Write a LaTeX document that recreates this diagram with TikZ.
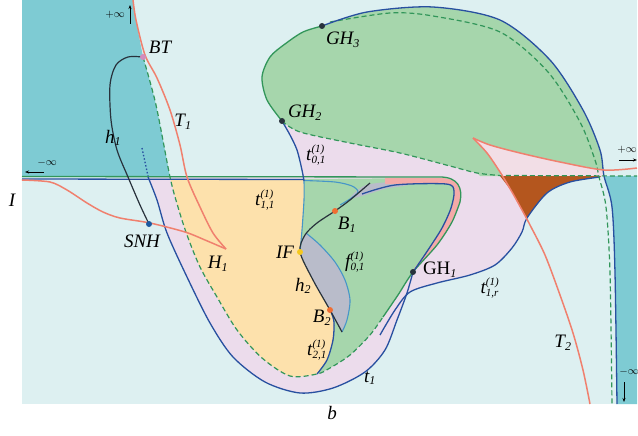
\documentclass[tikz,border=0pt]{standalone}
\usepackage{fontspec}
\setmainfont{Liberation Serif}
\usetikzlibrary{arrows.meta}
\definecolor{bgc}{RGB}{221,240,241}
\definecolor{tealc}{RGB}{126,203,211}
\definecolor{grn}{RGB}{166,214,172}
\definecolor{lav}{RGB}{236,220,236}
\definecolor{yel}{RGB}{253,225,172}
\definecolor{gry}{RGB}{185,188,202}
\definecolor{brn}{RGB}{180,86,30}
\definecolor{pnk}{RGB}{244,170,168}
\definecolor{cusp}{RGB}{242,222,230}
\definecolor{blueline}{RGB}{40,80,160}
\definecolor{lblue}{RGB}{70,150,200}
\definecolor{greenline}{RGB}{50,150,90}
\definecolor{redline}{RGB}{240,128,110}
\definecolor{darkline}{RGB}{40,50,60}
\definecolor{btc}{RGB}{210,140,190}
\definecolor{orng}{RGB}{240,110,50}
\definecolor{ifc}{RGB}{245,200,30}
\definecolor{snhc}{RGB}{30,90,160}
\newcommand{\lsub}[1]{$_{\hbox{\fontsize{12}{12}\selectfont\itshape #1}}$}
\newcommand{\lss}[2]{$\vphantom{t}^{\hbox{\fontsize{11}{11}\selectfont\itshape #1}}_{\hbox{\fontsize{11}{11}\selectfont\itshape #2}}$}
\tikzset{
 lbl/.style={font=\fontsize{19}{21}\selectfont\itshape, inner sep=0pt},
 bline/.style={draw=blueline, line width=1.3pt},
 lbline/.style={draw=lblue, line width=1.1pt},
 gline/.style={draw=greenline, line width=1.3pt},
 gdash/.style={draw=greenline, line width=1.2pt, dash pattern=on 5pt off 3pt},
 rline/.style={draw=redline, line width=1.5pt},
 hline/.style={draw=darkline, line width=1.2pt},
 dotpt/.style={circle, inner sep=0pt, minimum size=6pt},
 inf/.style={font=\fontsize{11}{11}\selectfont, inner sep=0pt},
 infarrow/.style={-{Stealth[length=4pt,width=3pt]}, line width=0.8pt},
}
\begin{document}
\begin{tikzpicture}[x=1pt,y=-1pt]
\useasboundingbox (0,0) rectangle (638,436);
\fill[white] (0,0) rectangle (638,436);
\fill[bgc] (22,0) rectangle (637,404);
% lavender upper
\fill[lav] plot[smooth] coordinates {(282,121) (290,135) (297,150) (302,170) (304,181)} -- (480,181) -- (480,176) -- plot[smooth] coordinates {(477,173) (450,166) (400,153) (350,143) (300,132) (282,121)} -- cycle;
% lavender lower
\fill[lav] plot[smooth] coordinates {(148,177) (157,200) (167,233) (187,277) (210,323) (233,357) (265,382) (300,393) (333,388) (365,372) (385,350) (397,320) (407,293)} -- plot[smooth] coordinates {(410,291) (437,283) (470,275) (495,265) (512,248) (522,232) (527,218)} -- plot[smooth] coordinates {(522,210) (512,192) (500,176)} -- cycle;
% teal upper-left
\fill[tealc] (22,0) -- plot[smooth] coordinates {(133,0) (136,20) (143,57)} -- plot[smooth] coordinates {(143,57) (156,105) (170,177)} -- (22,177) -- cycle;
% teal right
\fill[tealc] plot[smooth] coordinates {(604,176) (612,207) (615,273) (617,404)} -- (637,404) -- (637,176) -- cycle;
% green blob
\fill[grn] plot[smooth] coordinates {(282,121) (267,100) (262,77) (270,57) (285,44) (303,32) (322,26)} -- plot[smooth] coordinates {(322,26) (367,12) (433,7) (500,20) (550,60) (583,110) (600,150) (604,176)} -- (480,176) -- plot[smooth] coordinates {(477,173) (450,166) (400,153) (350,143) (300,132) (282,121)} -- cycle;
% cusp
\fill[cusp] plot[smooth] coordinates {(473,138) (490,145) (520,153) (560,162) (604,170)} -- (604,176) -- (500,176) -- plot[smooth] coordinates {(500,172) (487,153) (473,138)} -- cycle;
% brown
\fill[brn] (500,176) -- (601,176) -- plot[smooth] coordinates {(600,177) (570,182) (547,193) (527,218)} -- plot[smooth] coordinates {(522,210) (512,192) (500,176)} -- cycle;
% yellow
\fill[yel] plot[smooth] coordinates {(170,178) (178,207) (187,235) (200,267) (217,297) (237,330) (262,358) (290,376) (317,374)} -- plot[smooth] coordinates {(327,360) (333,340) (334,322) (330,310)} -- plot[smooth] coordinates {(330,310) (313,280) (300,252)} -- plot[smooth] coordinates {(302,230) (304,200) (304,179)} -- (170,179) -- cycle;
% lower green
\fill[grn] (304,179) -- (440,178) .. controls (458,178) and (463,188) .. (460,202) -- plot[smooth] coordinates {(460,202) (452,222) (437,245) (413,272) (398,295) (383,317)} -- plot[smooth] coordinates {(370,335) (350,355) (330,368) (317,374)} -- plot[smooth] coordinates {(327,360) (333,340) (334,322) (330,310)} -- plot[smooth] coordinates {(330,310) (313,280) (300,252)} -- plot[smooth] coordinates {(302,230) (304,200) (304,179)} -- cycle;
% gray regions
\fill[gry] plot[smooth] coordinates {(300,252) (313,280) (330,310) (342,332)} -- plot[smooth] coordinates {(342,332) (347,320) (350,300) (345,280) (335,262) (320,245) (306,233)} -- (303,237) -- cycle;
\fill[gry] plot[smooth cycle] coordinates {(350,198) (366,185) (397,182) (408,185) (385,189) (362,196)};
% pink band
\fill[pnk] (385,178) -- (440,178) .. controls (458,178) and (463,188) .. (460,202) -- plot[smooth] coordinates {(460,202) (452,222) (437,245) (413,272)} -- plot[smooth] coordinates {(413,270) (428,250) (442,228) (451,208) (454,191) (446,184) (400,184) (385,184)} -- cycle;
% lines
\draw[bline] (22,179) -- (304,179.5);
\draw[lbline] plot[smooth] coordinates {(304,180.5) (335,182) (352,186) (358,192) (350,199) (340,205)};
\draw[gline] (22,176.5) -- (440,177) .. controls (458,177) and (463,188) .. (460,202) -- plot[smooth] coordinates {(460,202) (452,222) (437,245) (413,272) (398,295) (383,317)};
\draw[bline] plot[smooth] coordinates {(362,194) (395,185) (446,184) (454,191) (451,208) (442,228) (428,250) (413,272)};
\draw[bline] plot[smooth] coordinates {(148,177) (157,200) (167,233) (187,277) (210,323) (233,357) (265,382) (300,393) (333,388) (365,372) (385,350) (397,320) (407,293) (413,272)};
\draw[bline, dash pattern=on 1.5pt off 2pt] (142,148) -- (148,176);
\draw[bline] plot[smooth] coordinates {(380,335) (395,310) (410,292) (437,283) (470,275) (495,265) (512,248) (522,232) (527,218) (547,193) (570,182) (600,177)};
\draw[bline] plot[smooth] coordinates {(282,121) (290,135) (297,150) (302,170) (304,181)};
\draw[lbline] plot[smooth] coordinates {(304,181) (304,200) (302,230) (300,252)};
\draw[bline] plot[smooth] coordinates {(317,374) (327,360) (333,340) (334,322) (331,312)};
\draw[lbline] plot[smooth] coordinates {(342,332) (347,320) (350,300) (345,280) (335,262) (320,245) (306,233)};
\draw[hline] plot[smooth] coordinates {(370,183) (350,200) (335,211) (317,223) (305,235) (300,252) (313,280) (330,310) (342,332)};
\draw[hline] plot[smooth] coordinates {(143,57) (128,57) (116,65) (110,85) (111,120) (117,150) (128,177) (140,205) (149,224)};
\draw[gdash] plot[smooth] coordinates {(143,57) (156,105) (170,177) (178,207) (187,235) (200,267) (217,297) (237,330) (262,358) (290,376) (317,374) (330,368) (350,355) (370,335) (383,317)};
\draw[gline] plot[smooth] coordinates {(282,121) (267,100) (262,77) (270,57) (285,44) (303,32) (322,26)};
\draw[gdash] plot[smooth] coordinates {(330,22) (390,13) (433,16) (500,32) (548,72) (580,122) (595,160) (599,177) (606,207) (610,273) (612,404)};
\draw[bline] plot[smooth] coordinates {(322,26) (367,12) (433,7) (500,20) (550,60) (583,110) (600,150) (604,176) (612,207) (615,273) (617,404)};
\draw[gdash] plot[smooth] coordinates {(282,121) (300,132) (350,143) (400,153) (450,166) (477,173) (500,175.5)} -- (637,176);
\draw[rline] plot[smooth] coordinates {(133,0) (136,20) (145,55) (157,78) (170,110) (180,145) (187,177) (200,207) (213,233) (226,249)};
\draw[rline] plot[smooth] coordinates {(226,249) (205,240) (185,232) (150,223) (120,218) (103,212) (87,203) (67,190) (50,182) (22,180)};
\draw[rline] plot[smooth] coordinates {(637,168) (604,170) (560,162) (520,153) (490,145) (473,138)};
\draw[rline] plot[smooth] coordinates {(473,138) (487,153) (500,172) (512,192) (522,210) (530,225) (545,255) (560,295) (573,333) (583,370) (590,404)};
% dots
\node[dotpt, fill=btc] (BT) at (143,57) {};
\node[dotpt, fill=darkline] (GH3) at (322,26) {};
\node[dotpt, fill=darkline] (GH2) at (282,121) {};
\node[dotpt, fill=darkline] (GH1) at (413,272) {};
\node[dotpt, fill=snhc] (SNH) at (149,224) {};
\node[dotpt, fill=ifc] (IF) at (300,252) {};
\node[dotpt, fill=orng] (B1) at (335,211) {};
\node[dotpt, fill=orng] (B2) at (330,310) {};
% labels
\node[lbl] (lBT) at (160,47) {BT};
\node[lbl] (lT1) at (183,122) {T\lsub{1}};
\node[lbl] (lh1) at (113,138) {h\lsub{1}};
\node[lbl] (lI) at (12,200) {I};
\node[lbl] (lSNH) at (142,241) {SNH};
\node[lbl] (lH1) at (218,264) {H\lsub{1}};
\node[lbl] (lt11) at (265,200) {t\lss{(1)}{1,1}};
\node[lbl] (lIF) at (285,252) {IF};
\node[lbl] (lh2) at (303,286) {h\lsub{2}};
\node[lbl] (lB2) at (322,318) {B\lsub{2}};
\node[lbl] (lt21) at (317,350) {t\lss{(1)}{2,1}};
\node[lbl] (lt1) at (370,378) {t\lsub{1}};
\node[lbl] (lf01) at (355,262) {f\lss{(1)}{0,1}};
\node[lbl] (lB1) at (347,225) {B\lsub{1}};
\node[lbl, font=\fontsize{19}{21}\selectfont] (lGH1) at (440,270) {GH\lsub{1}};
\node[lbl] (lt1r) at (490,288) {t\lss{(1)}{1,r}};
\node[lbl] (lT2) at (563,343) {T\lsub{2}};
\node[lbl] (lGH2) at (305,113) {GH\lsub{2}};
\node[lbl] (lt01) at (316,155) {t\lss{(1)}{0,1}};
\node[lbl] (lGH3) at (343,40) {GH\lsub{3}};
\node[lbl] (lb) at (332,413) {b};
% infinity marks
\node[inf] (pinfA) at (115,15) {$+\infty$};
\coordinate (aAs) at (130,24); \coordinate (aAe) at (130,5);
\draw[infarrow] (aAs) -- (aAe);
\node[inf] (minfA) at (47,163) {$-\infty$};
\coordinate (aBs) at (44,172); \coordinate (aBe) at (25,172);
\draw[infarrow] (aBs) -- (aBe);
\node[inf] (pinfB) at (627,150) {$+\infty$};
\coordinate (aCs) at (619,160); \coordinate (aCe) at (637,160);
\draw[infarrow] (aCs) -- (aCe);
\node[inf] (minfB) at (629,372) {$-\infty$};
\coordinate (aDs) at (624,382); \coordinate (aDe) at (624,402);
\draw[infarrow] (aDs) -- (aDe);
\end{tikzpicture}
\end{document}
